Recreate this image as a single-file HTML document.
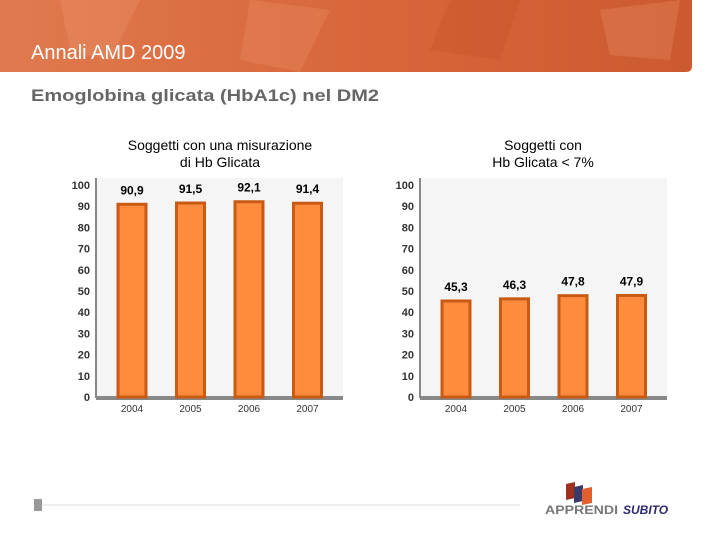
<!DOCTYPE html>
<html><head><meta charset="utf-8"><style>
body{margin:0;width:720px;height:540px;background:#fff;overflow:hidden;font-family:"Liberation Sans",sans-serif}
</style></head><body>
<svg width="720" height="540" viewBox="0 0 720 540" xmlns="http://www.w3.org/2000/svg" style="position:absolute;left:0;top:0">
<defs><linearGradient id="hg" x1="0" x2="1" y1="0" y2="0"><stop offset="0" stop-color="#e07a4e"/><stop offset="0.5" stop-color="#d8673c"/><stop offset="1" stop-color="#cc5a30"/></linearGradient></defs>
<g>
<path d="M0 0 H692 V66 Q692 72 686 72 H0 Z" fill="url(#hg)"/>
<polygon points="60,0 140,0 110,60 70,50" fill="#e88a60" opacity="0.5"/>
<polygon points="250,0 330,10 300,72 240,60" fill="#e88a60" opacity="0.4"/>
<polygon points="450,0 520,0 500,60 430,50" fill="#c85228" opacity="0.4"/>
<polygon points="600,10 680,0 670,60 610,55" fill="#e88a60" opacity="0.35"/>
</g>
<text x="31" y="59" font-size="20" fill="#fff">Annali AMD 2009</text>
<text x="31" y="101" font-size="17" font-weight="bold" fill="#666" textLength="348" lengthAdjust="spacingAndGlyphs">Emoglobina glicata (HbA1c) nel DM2</text>
<text x="220" y="150" font-size="14" fill="#000" text-anchor="middle"><tspan x="220">Soggetti con una misurazione</tspan><tspan x="220" dy="17">di Hb Glicata</tspan></text>
<text x="543" y="150" font-size="14" fill="#000" text-anchor="middle"><tspan x="543">Soggetti con</tspan><tspan x="543" dy="17">Hb Glicata &lt; 7%</tspan></text>
<g id="charts"></g>
<line x1="40" y1="505" x2="520" y2="505" stroke="#ddd" stroke-width="1"/>
<rect x="34" y="499" width="8" height="12" fill="#999"/>
<g>
<polygon points="566,484 575,482 575,498 566,500" fill="#a0301e"/>
<polygon points="574,487 583,485 583,501 574,503" fill="#3a3a6a"/>
<polygon points="582,489 592,487 592,503 582,505" fill="#e06030"/>
<text x="545" y="514" font-size="12" font-weight="bold" fill="#777" textLength="73" lengthAdjust="spacingAndGlyphs">APPRENDI</text>
</g>
<text x="623" y="514" font-size="12" font-weight="bold" font-style="italic" fill="#2a2a70">SUBITO</text>
</svg>
<script>
const categories=["2004","2005","2006","2007"];
const leftValues=[90.9,91.5,92.1,91.4];
const leftLabels=["90,9","91,5","92,1","91,4"];
const rightValues=[45.3,46.3,47.8,47.9];
const rightLabels=["45,3","46,3","47,8","47,9"];
const yTicks=[0,10,20,30,40,50,60,70,80,90,100];
const NS="http://www.w3.org/2000/svg";
const g=document.getElementById('charts');
function mk(t,a,p){const e=document.createElementNS(NS,t);for(const k in a)e.setAttribute(k,a[k]);(p||g).appendChild(e);return e;}
function chart(ax,vals,labs,pfx){
  const y=v=>397-2.12*v, x=i=>ax+36+i*58.5;
  const grp=mk('g',{});
  
  
  const bg=mk('rect',{x:ax,y:178,width:247,height:219,fill:'#f5f5f5'},grp);
  
  
  mk('line',{x1:ax,y1:178,x2:ax,y2:398,stroke:'#888','stroke-width':2},grp);
  const base=mk('rect',{x:ax,y:396,width:247,height:4,fill:'#888'},grp);
  
  
  yTicks.forEach(t=>{const tx=mk('text',{x:ax-6,y:y(t)+4,'font-size':11,'font-weight':'bold',fill:'#333','text-anchor':'end'},grp);tx.textContent=t;
    
    });
  vals.forEach((v,i)=>{
    const b=mk('rect',{x:x(i)-14,y:y(v),width:28,height:397-y(v),fill:'#ff8c3c',stroke:'#c85a14','stroke-width':3},grp);
    
    
    const l=mk('text',{x:x(i),y:y(v)-10,'font-size':12,'font-weight':'bold',fill:'#000','text-anchor':'middle'},grp);l.textContent=labs[i];
    
    
    const c=mk('text',{x:x(i),y:412,'font-size':10,fill:'#333','text-anchor':'middle'},grp);c.textContent=categories[i];
    
    
  });
}
chart(96,leftValues,leftLabels,'left');
chart(420,rightValues,rightLabels,'right');
</script>
</body></html>
